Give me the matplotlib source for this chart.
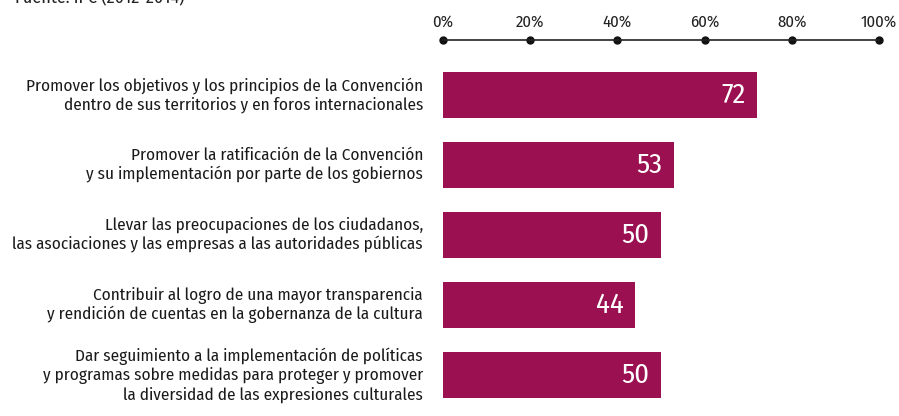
import matplotlib.pyplot as plt

# Responses (% of reports) per role of civil society
labels = [
    "Promover los objetivos y los principios de la Convención\ndentro de sus territorios y en foros internacionales",
    "Promover la ratificación de la Convención\ny su implementación por parte de los gobiernos",
    "Llevar las preocupaciones de los ciudadanos,\nlas asociaciones y las empresas a las autoridades públicas",
    "Contribuir al logro de una mayor transparencia\ny rendición de cuentas en la gobernanza de la cultura",
    "Dar seguimiento a la implementación de políticas\ny programas sobre medidas para proteger y promover\nla diversidad de las expresiones culturales",
]
values = [72, 53, 50, 44, 50]
ticks = [0, 20, 40, 60, 80, 100]
tick_labels = ["0%", "20%", "40%", "60%", "80%", "100%"]

plt.rcParams['font.family'] = ['Fira Sans Condensed', 'DejaVu Sans']

W, H = 899, 416
fig = plt.figure(figsize=(W / 100, H / 100), dpi=100)
ax = fig.add_axes([443 / W, 0, (879 - 443) / W, 1 - 40 / H])

bar_color = '#9a1051'
ypos = list(range(len(values)))
ax.barh(ypos, values, height=0.66, color=bar_color)

# value inside the end of each bar
for y, v in zip(ypos, values):
    ax.text(v - 2.6, y, str(v), ha='right', va='center', color='white',
            fontsize=20.5)

for y, lab in zip(ypos, labels):
    ax.text(-4.6, y, lab, ha='right', va='center', fontsize=12.3,
            color='#1a1a1a', linespacing=1.2)

ax.set_xlim(0, 100)
ax.set_ylim((416 - 95) / 70, -(95 - 40) / 70)

for s in ['left', 'right', 'bottom']:
    ax.spines[s].set_visible(False)
ax.spines['top'].set_color('#222222')
ax.spines['top'].set_linewidth(1.2)
ax.set_yticks([])
ax.xaxis.tick_top()
ax.set_xticks(ticks)
ax.set_xticklabels(tick_labels, fontsize=12, color='#222222')
ax.tick_params(axis='x', length=0, pad=7)
ax.plot(ticks, [1] * len(ticks), 'o', color='#111111', markersize=5,
        transform=ax.get_xaxis_transform(), clip_on=False)

fig.text(15 / W, 1 - 3 / H, "Fuente: IPC (2012-2014)", fontsize=13,
         color='#222222', va='baseline')

fig.savefig('out.png', dpi=100)
